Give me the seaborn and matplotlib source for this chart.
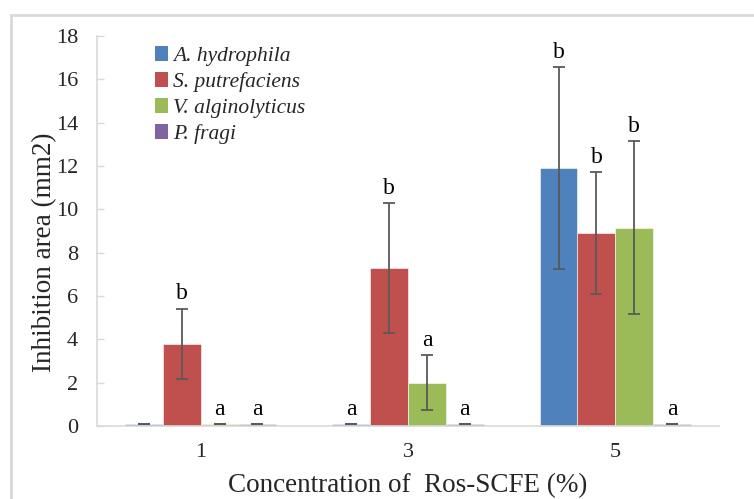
import matplotlib
matplotlib.use("Agg")
import matplotlib.pyplot as plt
import seaborn as sns
import pandas as pd
from matplotlib.patches import Rectangle

# Inhibition area per bacterium at each Ros-SCFE concentration
concentrations = ["1", "3", "5"]
species = ["A. hydrophila", "S. putrefaciens", "V. alginolyticus", "P. fragi"]
a_hydrophila = [0.1, 0.1, 11.9]
s_putrefaciens = [3.8, 7.3, 8.9]
v_alginolyticus = [0.1, 2.0, 9.15]
p_fragi = [0.1, 0.1, 0.1]
err_a_hydrophila = [0.0, 0.0, 4.65]
err_s_putrefaciens = [1.62, 3.0, 2.83]
err_v_alginolyticus = [0.0, 1.28, 4.0]
err_p_fragi = [0.0, 0.0, 0.0]
letters_a_hydrophila = ["", "a", "b"]
letters_s_putrefaciens = ["b", "b", "b"]
letters_v_alginolyticus = ["a", "a", "b"]
letters_p_fragi = ["a", "a", "a"]

values = [a_hydrophila, s_putrefaciens, v_alginolyticus, p_fragi]
errors = [err_a_hydrophila, err_s_putrefaciens, err_v_alginolyticus, err_p_fragi]
letters = [letters_a_hydrophila, letters_s_putrefaciens,
           letters_v_alginolyticus, letters_p_fragi]

df = pd.DataFrame({
    "conc": concentrations * len(species),
    "species": [s for s in species for _ in concentrations],
    "area": [v for vals in values for v in vals],
})

colors = ["#4F81BD", "#C0504D", "#9BBB59", "#8064A2"]

sns.set_theme(style="white")
plt.rcParams["font.family"] = ["Liberation Serif", "DejaVu Serif"]

fig = plt.figure(figsize=(7.54, 4.99), dpi=100)
ax = fig.add_axes([0.1286, 0.1463, 0.8250, 0.7816])

sns.barplot(data=df, x="conc", y="area", hue="species", order=concentrations,
            hue_order=species, palette=colors, width=0.73, errorbar=None,
            edgecolor="white", linewidth=0.4, saturation=1, ax=ax)

# Error bars and significance letters on top of each bar
for container, errs, labs in zip(ax.containers, errors, letters):
    for bar, e, lab in zip(container, errs, labs):
        xc = bar.get_x() + bar.get_width() / 2
        h = bar.get_height()
        ax.errorbar(xc, h, yerr=e, fmt="none", ecolor="#595959",
                    elinewidth=1.3, capsize=4, capthick=1.3, zorder=3)
        if lab:
            ax.annotate(lab, (xc, h + e), xytext=(0, 3),
                        textcoords="offset points", ha="center", va="bottom",
                        fontsize=17, color="black")

ax.set_ylim(0, 18)
ax.set_yticks(range(0, 19, 2))
ax.set_xlim(-0.5, 2.5)

for side in ["top", "right"]:
    ax.spines[side].set_visible(False)
for side in ["left", "bottom"]:
    ax.spines[side].set_color("#d9d9d9")
    ax.spines[side].set_linewidth(1.2)

ax.tick_params(axis="y", direction="in", length=5, width=1, color="#d9d9d9",
               pad=13.5, labelsize=16, left=True)
ax.tick_params(axis="x", length=0, pad=12, labelsize=16)

ax.set_ylabel("Inhibition area (mm2)", fontsize=19.5)
ax.yaxis.set_label_coords(-0.064, 0.446)
ax.set_xlabel("Concentration of  Ros-SCFE (%)", fontsize=19.5, labelpad=8.5)

leg = ax.legend(loc="upper left", bbox_to_anchor=(0.062, 1.025), frameon=False,
                handlelength=0.6, handleheight=0.7, handletextpad=0.25,
                labelspacing=0.28, prop={"family": "Liberation Serif",
                                         "style": "italic", "size": 15.5})
for h in leg.legend_handles:
    h.set_edgecolor("none")

# Light grey frame around the chart area
fig.patches.append(Rectangle((11 / 754, -0.2), 1.2, 1.2 - 15 / 499,
                             transform=fig.transFigure, fill=False,
                             edgecolor="#d9d9d9", linewidth=2, zorder=0))

fig.savefig("out.png", dpi=100)
